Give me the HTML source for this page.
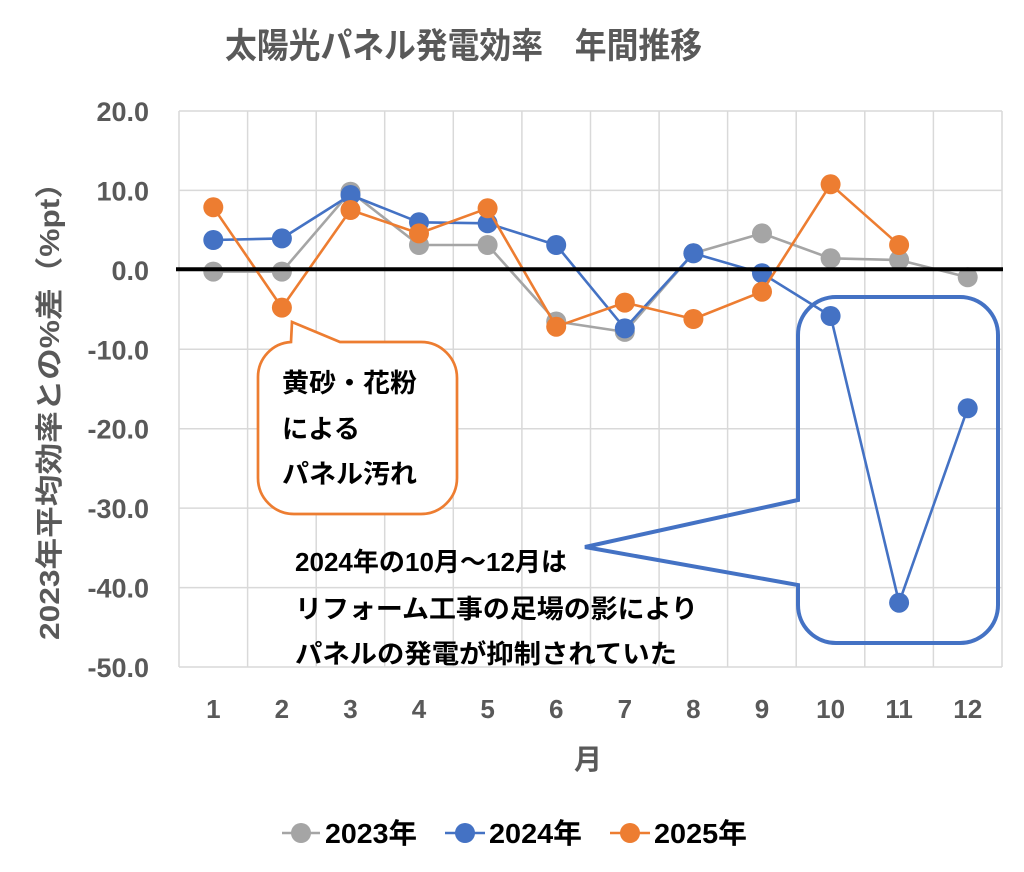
<!DOCTYPE html>
<html><head><meta charset="utf-8"><style>
html,body{margin:0;padding:0;background:#fff;}
svg{display:block;}
text{font-family:"Liberation Sans","Noto Sans CJK JP",sans-serif;font-weight:bold;}
</style></head><body>
<svg width="1024" height="872" viewBox="0 0 1024 872" xmlns="http://www.w3.org/2000/svg">
<rect width="1024" height="872" fill="#fff"/>
<!-- title -->
<text x="225" y="58" font-size="35" fill="#595959" textLength="477" lengthAdjust="spacingAndGlyphs">太陽光パネル発電効率　年間推移</text>
<!-- gridlines -->
<g stroke="#D9D9D9" stroke-width="1.5">
<line x1="179" y1="111" x2="1002" y2="111"/>
<line x1="179" y1="190.4" x2="1002" y2="190.4"/>
<line x1="179" y1="349.3" x2="1002" y2="349.3"/>
<line x1="179" y1="428.7" x2="1002" y2="428.7"/>
<line x1="179" y1="508.1" x2="1002" y2="508.1"/>
<line x1="179" y1="587.6" x2="1002" y2="587.6"/>
<line x1="179" y1="667" x2="1002" y2="667"/>
<line x1="179" y1="111" x2="179" y2="667"/>
<line x1="247.6" y1="111" x2="247.6" y2="667"/>
<line x1="316.2" y1="111" x2="316.2" y2="667"/>
<line x1="384.7" y1="111" x2="384.7" y2="667"/>
<line x1="453.3" y1="111" x2="453.3" y2="667"/>
<line x1="521.9" y1="111" x2="521.9" y2="667"/>
<line x1="590.5" y1="111" x2="590.5" y2="667"/>
<line x1="659.1" y1="111" x2="659.1" y2="667"/>
<line x1="727.6" y1="111" x2="727.6" y2="667"/>
<line x1="796.2" y1="111" x2="796.2" y2="667"/>
<line x1="864.8" y1="111" x2="864.8" y2="667"/>
<line x1="933.4" y1="111" x2="933.4" y2="667"/>
<line x1="1002" y1="111" x2="1002" y2="667"/>
</g>
<!-- y tick labels -->
<g font-size="27" fill="#595959" text-anchor="end">
<text x="149" y="121">20.0</text>
<text x="149" y="200.4">10.0</text>
<text x="149" y="279.9">0.0</text>
<text x="149" y="359.3">-10.0</text>
<text x="149" y="438.7">-20.0</text>
<text x="149" y="518.1">-30.0</text>
<text x="149" y="597.6">-40.0</text>
<text x="149" y="677">-50.0</text>
</g>
<!-- x tick labels -->
<g font-size="26" fill="#595959" text-anchor="middle">
<text x="213.3" y="718">1</text>
<text x="281.9" y="718">2</text>
<text x="350.5" y="718">3</text>
<text x="419.0" y="718">4</text>
<text x="487.6" y="718">5</text>
<text x="556.2" y="718">6</text>
<text x="624.8" y="718">7</text>
<text x="693.4" y="718">8</text>
<text x="762.0" y="718">9</text>
<text x="830.6" y="718">10</text>
<text x="899.1" y="718">11</text>
<text x="967.7" y="718">12</text>
</g>
<text x="588" y="769" font-size="28" fill="#595959" text-anchor="middle">月</text>
<!-- y axis title -->
<text transform="translate(59,640) rotate(-90)" x="0" y="0" font-size="28" fill="#595959" textLength="473" lengthAdjust="spacingAndGlyphs">2023年平均効率との%差（%pt）</text>

<!-- series 2023 -->
<g fill="#A5A5A5">
<polyline fill="none" stroke="#A5A5A5" stroke-width="2.6" stroke-linejoin="round" points="213.3,271.6 281.9,271.6 350.5,191.7 419.0,245.0 487.6,245.0 556.2,321.5 624.8,331.9 693.4,253.3 762.0,233.4 830.6,258.3 899.1,260.0 967.7,277.3"/>
<circle cx="213.3" cy="271.6" r="10"/><circle cx="281.9" cy="271.6" r="10"/><circle cx="350.5" cy="191.7" r="10"/><circle cx="419.0" cy="245.0" r="10"/><circle cx="487.6" cy="245.0" r="10"/><circle cx="556.2" cy="321.5" r="10"/><circle cx="624.8" cy="331.9" r="10"/><circle cx="693.4" cy="253.3" r="10"/><circle cx="762.0" cy="233.4" r="10"/><circle cx="830.6" cy="258.3" r="10"/><circle cx="899.1" cy="260.0" r="10"/><circle cx="967.7" cy="277.3" r="10"/>
</g>
<!-- series 2024 -->
<g fill="#4472C4">
<polyline fill="none" stroke="#4472C4" stroke-width="2.6" stroke-linejoin="round" points="213.3,240.0 281.9,238.4 350.5,195.0 419.0,222.3 487.6,223.3 556.2,245.0 624.8,328.4 693.4,253.3 762.0,273.3 830.6,316.0 899.1,602.7 967.7,408.3"/>
<circle cx="213.3" cy="240.0" r="10"/><circle cx="281.9" cy="238.4" r="10"/><circle cx="350.5" cy="195.0" r="10"/><circle cx="419.0" cy="222.3" r="10"/><circle cx="487.6" cy="223.3" r="10"/><circle cx="556.2" cy="245.0" r="10"/><circle cx="624.8" cy="328.4" r="10"/><circle cx="693.4" cy="253.3" r="10"/><circle cx="762.0" cy="273.3" r="10"/><circle cx="830.6" cy="316.0" r="10"/><circle cx="899.1" cy="602.7" r="10"/><circle cx="967.7" cy="408.3" r="10"/>
</g>
<!-- series 2025 -->
<g fill="#ED7D31">
<polyline fill="none" stroke="#ED7D31" stroke-width="2.6" stroke-linejoin="round" points="213.3,207.3 281.9,307.6 350.5,210.0 419.0,233.4 487.6,208.3 556.2,326.7 624.8,302.6 693.4,319.0 762.0,291.7 830.6,184.3 899.1,245.0"/>
<circle cx="213.3" cy="207.3" r="10"/><circle cx="281.9" cy="307.6" r="10"/><circle cx="350.5" cy="210.0" r="10"/><circle cx="419.0" cy="233.4" r="10"/><circle cx="487.6" cy="208.3" r="10"/><circle cx="556.2" cy="326.7" r="10"/><circle cx="624.8" cy="302.6" r="10"/><circle cx="693.4" cy="319.0" r="10"/><circle cx="762.0" cy="291.7" r="10"/><circle cx="830.6" cy="184.3" r="10"/><circle cx="899.1" cy="245.0" r="10"/>
</g>
<!-- zero line -->
<line x1="176" y1="269.3" x2="1003" y2="269.3" stroke="#000" stroke-width="4"/>

<!-- orange callout -->
<path d="M 292,322 L 340,342 L 421,342 A 36 36 0 0 1 457,378 L 457,478 A 36 36 0 0 1 421,514 L 294,514 A 36 36 0 0 1 258,478 L 258,377 A 35 35 0 0 1 291,342 Z" fill="#fff" stroke="#ED7D31" stroke-width="2.7" stroke-linejoin="miter"/>
<g font-size="26" fill="#000">
<text x="282" y="392" textLength="135" lengthAdjust="spacingAndGlyphs">黄砂・花粉</text>
<text x="282" y="438" textLength="78" lengthAdjust="spacingAndGlyphs">による</text>
<text x="282" y="483" textLength="135" lengthAdjust="spacingAndGlyphs">パネル汚れ</text>
</g>

<!-- blue callout -->
<path d="M 836,297 L 960,297 A 38 38 0 0 1 998,335 L 998,605 A 38 38 0 0 1 960,643 L 836,643 A 38 38 0 0 1 798,605 L 798,585 L 585,547 L 798,500 L 798,335 A 38 38 0 0 1 836,297 Z" fill="none" stroke="#4472C4" stroke-width="4" stroke-linejoin="miter"/>
<g font-size="26" fill="#000">
<text x="295" y="571" textLength="272" lengthAdjust="spacingAndGlyphs">2024年の10月～12月は</text>
<text x="295" y="618" textLength="403" lengthAdjust="spacingAndGlyphs">リフォーム工事の足場の影により</text>
<text x="295" y="663" textLength="382" lengthAdjust="spacingAndGlyphs">パネルの発電が抑制されていた</text>
</g>

<!-- legend -->
<line x1="282" y1="833" x2="320" y2="833" stroke="#A5A5A5" stroke-width="2.6"/>
<circle cx="301" cy="833" r="10" fill="#A5A5A5"/>
<text x="325" y="843" font-size="28" fill="#000" textLength="92" lengthAdjust="spacingAndGlyphs">2023年</text>
<line x1="445" y1="833" x2="485" y2="833" stroke="#4472C4" stroke-width="2.6"/>
<circle cx="465" cy="833" r="10" fill="#4472C4"/>
<text x="489" y="843" font-size="28" fill="#000" textLength="93" lengthAdjust="spacingAndGlyphs">2024年</text>
<line x1="610" y1="833" x2="650" y2="833" stroke="#ED7D31" stroke-width="2.6"/>
<circle cx="630" cy="833" r="10" fill="#ED7D31"/>
<text x="654" y="843" font-size="28" fill="#000" textLength="93" lengthAdjust="spacingAndGlyphs">2025年</text>
</svg>
</body></html>
